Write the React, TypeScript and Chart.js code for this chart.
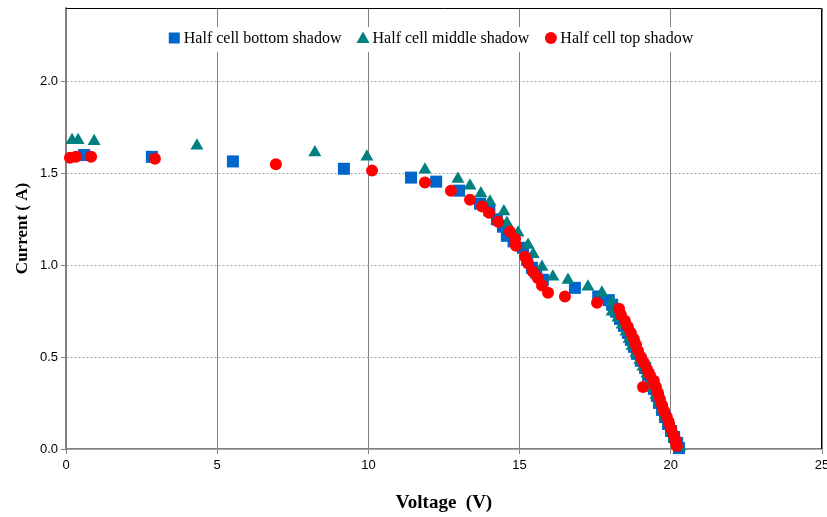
import React, { useEffect, useRef } from "react";
import { Chart, registerables } from "chart.js";

Chart.register(...registerables);

// Half cell bottom shadow
const bottomV = [0.6, 2.84, 5.52, 9.19, 11.41, 12.24, 13.0, 13.69, 14.0, 14.25, 14.45, 14.58, 14.8, 15.11, 15.25, 15.41, 15.55, 15.77, 16.83, 17.6, 17.95,
  18.06, 18.19, 18.32, 18.45, 18.58, 18.68, 18.78, 18.88, 19.01, 19.15, 19.25, 19.35, 19.44, 19.54, 19.61, 19.71, 19.81, 19.91, 20.01, 20.11, 20.21, 20.27];
const bottomI = [1.6, 1.59, 1.565, 1.525, 1.477, 1.455, 1.406, 1.335, 1.3, 1.25, 1.21, 1.16, 1.13, 1.095, 1.03, 0.986, 0.96, 0.921, 0.877, 0.83, 0.81,
  0.785, 0.747, 0.708, 0.67, 0.632, 0.594, 0.556, 0.518, 0.48, 0.441, 0.403, 0.365, 0.327, 0.289, 0.251, 0.213, 0.174, 0.136, 0.098, 0.065, 0.033, 0.005];

// Half cell middle shadow
const middleV = [0.2, 0.4, 0.93, 4.33, 8.23, 9.95, 11.87, 12.96, 13.36, 13.72, 14.02, 14.48, 14.58, 14.95, 15.28, 15.45, 15.74, 16.1, 16.6, 17.26, 17.72, 18.06,
  18.06, 18.25, 18.39, 18.52, 18.62, 18.72, 18.85, 18.98, 19.08, 19.21, 19.31, 19.41, 19.51, 19.61, 19.71, 19.81, 19.91, 20.01, 20.11, 20.21, 20.3];
const middleI = [1.68, 1.68, 1.675, 1.65, 1.613, 1.59, 1.52, 1.47, 1.433, 1.39, 1.346, 1.292, 1.23, 1.177, 1.11, 1.06, 0.99, 0.937, 0.92, 0.883, 0.85, 0.8,
  0.747, 0.714, 0.676, 0.638, 0.599, 0.561, 0.523, 0.485, 0.447, 0.409, 0.371, 0.332, 0.294, 0.256, 0.218, 0.18, 0.142, 0.104, 0.065, 0.038, 0.011];

// Half cell top shadow
const topV = [0.13, 0.33, 0.83, 2.94, 6.94, 10.12, 11.87, 12.73, 13.36, 13.76, 13.99, 14.29, 14.68, 14.85, 14.88, 15.18, 15.28, 15.44, 15.6, 15.74, 15.94, 16.5, 17.56,
  18.29, 18.35, 18.48, 18.58, 18.68, 18.78, 18.85, 18.92, 19.01, 19.11, 19.21, 19.31, 19.08, 19.44, 19.51, 19.58, 19.64, 19.71, 19.78, 19.87, 19.94, 20.01, 20.07, 20.14, 20.17, 20.2];
const topI = [1.585, 1.59, 1.59, 1.58, 1.55, 1.515, 1.45, 1.405, 1.357, 1.32, 1.286, 1.237, 1.183, 1.144, 1.106, 1.046, 1.01, 0.965, 0.93, 0.89, 0.85, 0.83, 0.796,
  0.763, 0.73, 0.698, 0.665, 0.632, 0.599, 0.567, 0.534, 0.501, 0.469, 0.436, 0.403, 0.338, 0.371, 0.338, 0.305, 0.272, 0.24, 0.207, 0.174, 0.142, 0.109, 0.082, 0.054, 0.033, 0.016];

const seriesNames = ["Half cell bottom shadow", "Half cell middle shadow", "Half cell top shadow"];
const seriesColors = ["#0066CC", "#008080", "#FF0000"];
const xTicks = [0, 5, 10, 15, 20, 25];
const yTicks = [0, 0.5, 1.0, 1.5, 2.0];

const toPts = (xs: number[], ys: number[]) => xs.map((x, i) => ({ x, y: ys[i] }));

const legendPlugin = {
  id: "customLegend",
  afterDatasetsDraw(chart: any) {
    const ctx = chart.ctx as CanvasRenderingContext2D;
    const ds = chart.data.datasets;
    ctx.save();
    ctx.font = '16px "Liberation Serif", "Times New Roman", serif';
    const markerW = 11, gapMT = 4, gapItems = 16;
    const widths = ds.map((d: any) => ctx.measureText(d.label).width);
    const total = widths.reduce((a: number, w: number) => a + markerW + gapMT + w, 0) + gapItems * (ds.length - 1);
    const cx = 431, cy = 38;
    let x = cx - total / 2;
    ctx.fillStyle = "#ffffff";
    ctx.fillRect(x - 4, 27, total + 8, 25);
    ctx.textBaseline = "middle";
    ds.forEach((d: any, i: number) => {
      const mx = x + markerW / 2;
      ctx.fillStyle = d.backgroundColor;
      if (d.pointStyle === "rect") {
        ctx.fillRect(mx - 5.5, cy - 5.5, 11, 11);
      } else if (d.pointStyle === "triangle") {
        ctx.beginPath();
        ctx.moveTo(mx, cy - 6.5);
        ctx.lineTo(mx + 6.5, cy + 5);
        ctx.lineTo(mx - 6.5, cy + 5);
        ctx.closePath();
        ctx.fill();
      } else {
        ctx.beginPath();
        ctx.arc(mx, cy, 6, 0, Math.PI * 2);
        ctx.fill();
      }
      ctx.fillStyle = "#000";
      ctx.fillText(d.label, x + markerW + gapMT, cy + 1);
      x += markerW + gapMT + widths[i] + gapItems;
    });
    ctx.restore();
  },
  afterDraw(chart: any) {
    const { ctx, chartArea } = chart;
    ctx.save();
    ctx.strokeStyle = "#000";
    ctx.lineWidth = 1;
    ctx.beginPath();
    ctx.moveTo(chartArea.left, chartArea.top + 0.5);
    ctx.lineTo(chartArea.right - 0.5, chartArea.top + 0.5);
    ctx.lineTo(chartArea.right - 0.5, chartArea.bottom);
    ctx.stroke();
    ctx.restore();
  },
};

export default function App() {
  const ref = useRef<HTMLCanvasElement>(null);
  useEffect(() => {
    if (!ref.current) return;
    const styles = ["rect", "triangle", "circle"];
    const radii = [8.5, 7.5, 6];
    const data = [toPts(bottomV, bottomI), toPts(middleV, middleI), toPts(topV, topI)];
    const chart = new Chart(ref.current, {
      type: "scatter",
      data: {
        datasets: data.map((pts, i) => ({
          label: seriesNames[i],
          data: pts,
          pointStyle: styles[i],
          pointRadius: radii[i],
          pointHoverRadius: radii[i],
          backgroundColor: seriesColors[i],
          borderColor: seriesColors[i],
          borderWidth: 0,
          order: 3 - i,
          clip: false,
        })) as any,
      },
      options: {
        animation: false,
        responsive: false,
        events: [],
        layout: { autoPadding: false, padding: { top: 8, right: 5, left: 0, bottom: 0 } },
        plugins: { legend: { display: false }, tooltip: { enabled: false } },
        scales: {
          x: {
            type: "linear",
            min: 0,
            max: 25,
            afterBuildTicks: (s: any) => { s.ticks = xTicks.map((v) => ({ value: v })); },
            afterFit: (s: any) => { s.height = 68; s.paddingLeft = 0; s.paddingRight = 0; },
            ticks: {
              padding: 4,
              color: "#000",
              font: { family: '"Liberation Sans", Arial, sans-serif', size: 13 },
              callback: (v: any) => String(v),
            },
            grid: { color: "#808080", lineWidth: 1, tickLength: 5, tickColor: "#808080" },
            border: { color: "#808080", width: 1.5 },
            title: {
              display: true,
              text: "Voltage  (V)",
              color: "#000",
              font: { family: '"Liberation Serif", "Times New Roman", serif', size: 19, weight: "bold" },
              padding: { top: 0, bottom: 3 },
            },
          },
          y: {
            type: "linear",
            min: 0,
            max: 2.4,
            afterBuildTicks: (s: any) => { s.ticks = yTicks.map((v) => ({ value: v })); },
            afterFit: (s: any) => { s.width = 66; s.paddingTop = 0; s.paddingBottom = 0; },
            ticks: {
              padding: 3,
              color: "#000",
              font: { family: '"Liberation Sans", Arial, sans-serif', size: 13 },
              callback: (v: any) => Number(v).toFixed(1),
            },
            grid: { color: "#a6a6a6", lineWidth: 1, tickLength: 5, tickColor: "#808080", tickBorderDash: [] },
            border: { color: "#808080", width: 1.5, dash: [2, 2] },
            title: {
              display: true,
              text: "Current ( A)",
              color: "#000",
              font: { family: '"Liberation Serif", "Times New Roman", serif', size: 17, weight: "bold" },
              padding: { top: 12, bottom: 0 },
            },
          },
        },
      } as any,
      plugins: [legendPlugin],
    });
    return () => chart.destroy();
  }, []);
  return (
    <div style={{ position: "fixed", left: 0, top: 0, width: 827, height: 517, background: "#fff" }}>
      <canvas ref={ref} width={827} height={517} style={{ display: "block" }} />
    </div>
  );
}
